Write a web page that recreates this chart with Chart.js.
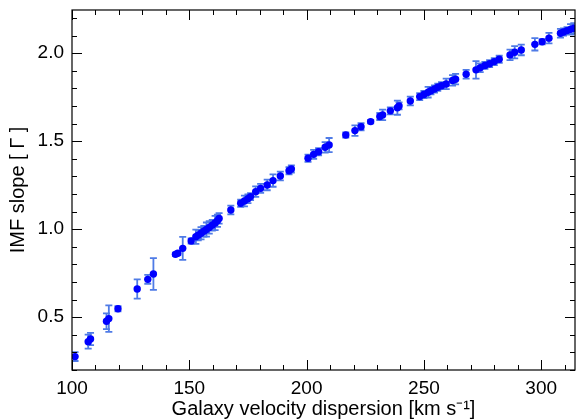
<!DOCTYPE html>
<html><head><meta charset="utf-8">
<script src="https://cdn.jsdelivr.net/npm/chart.js@4.4.1/dist/chart.umd.min.js"></script>
<style>html,body{margin:0;padding:0;background:#fff;}#wrap{width:579px;height:419px;}</style>
</head><body><div id="wrap"><canvas id="c" width="579" height="419"></canvas></div>
<script>
const sigma = [101.3,106.9,107.9,114.7,115.7,119.6,127.8,132.3,134.7,144.1,145.1,147.2,150.8,152.8,153.8,155.0,156.2,157.3,158.5,159.8,161.0,162.0,162.7,167.7,171.9,173.5,175.0,176.1,178.3,180.4,183.2,185.7,188.8,192.5,193.5,200.6,203.0,205.1,207.9,209.6,216.7,220.6,223.2,227.3,231.2,232.4,235.7,238.7,239.4,244.2,248.2,250.0,251.8,253.0,254.5,255.9,257.5,259.5,262.2,263.5,268.0,272.2,274.0,276.0,278.0,280.0,282.1,286.7,288.7,291.5,297.3,300.4,303.3,308.2,309.5,311.0,312.5,313.9];
const gamma = [0.276,0.361,0.376,0.477,0.492,0.548,0.660,0.715,0.745,0.857,0.863,0.891,0.933,0.957,0.966,0.977,0.988,0.998,1.010,1.022,1.035,1.048,1.061,1.109,1.147,1.160,1.173,1.185,1.213,1.232,1.251,1.276,1.302,1.332,1.342,1.403,1.425,1.440,1.465,1.478,1.535,1.560,1.582,1.611,1.640,1.649,1.672,1.690,1.700,1.728,1.753,1.765,1.778,1.786,1.796,1.806,1.815,1.825,1.845,1.852,1.880,1.905,1.917,1.930,1.940,1.952,1.965,1.990,2.005,2.018,2.050,2.065,2.085,2.113,2.120,2.128,2.135,2.141];
const gammaErr = [0.025,0.040,0.035,0.045,0.075,0.015,0.055,0.025,0.090,0.010,0.010,0.065,0.015,0.040,0.030,0.035,0.030,0.040,0.035,0.030,0.040,0.035,0.030,0.025,0.020,0.030,0.025,0.020,0.030,0.025,0.030,0.035,0.025,0.020,0.020,0.020,0.025,0.020,0.030,0.040,0.015,0.030,0.020,0.010,0.020,0.030,0.020,0.040,0.020,0.025,0.020,0.020,0.030,0.020,0.020,0.020,0.020,0.030,0.030,0.030,0.025,0.050,0.025,0.020,0.020,0.020,0.020,0.030,0.035,0.030,0.035,0.015,0.030,0.025,0.020,0.020,0.030,0.030];
const xTicks = [100,150,200,250,300];
const yTicks = [0.5,1.0,1.5,2.0];
const xRange = [100,314.4];
const yRange = [0.2,2.245];

const FONT = "'Liberation Sans', Arial, Helvetica, sans-serif";

const errorBars = {
  id: 'errorBars',
  beforeDatasetsDraw(chart) {
    const {ctx, chartArea, scales:{x, y}} = chart;
    ctx.save();
    ctx.beginPath();
    ctx.rect(chartArea.left, chartArea.top, chartArea.right - chartArea.left, chartArea.bottom - chartArea.top);
    ctx.clip();
    ctx.strokeStyle = '#4f7be6';
    ctx.lineWidth = 1.8;
    for (let i = 0; i < sigma.length; i++) {
      const px = x.getPixelForValue(sigma[i]);
      const y1 = y.getPixelForValue(gamma[i] - gammaErr[i]);
      const y2 = y.getPixelForValue(gamma[i] + gammaErr[i]);
      ctx.beginPath();
      ctx.moveTo(px, y1); ctx.lineTo(px, y2);
      ctx.moveTo(px - 3.5, y1); ctx.lineTo(px + 3.5, y1);
      ctx.moveTo(px - 3.5, y2); ctx.lineTo(px + 3.5, y2);
      ctx.stroke();
    }
    ctx.restore();
  }
};

const frame = {
  id: 'frame',
  afterDraw(chart) {
    const {ctx, chartArea:a, scales:{x, y}} = chart;
    ctx.save();
    ctx.strokeStyle = '#000';
    ctx.lineWidth = 1.2;
    ctx.strokeRect(a.left, a.top, a.right - a.left, a.bottom - a.top);
    ctx.lineWidth = 1;
    ctx.beginPath();
    for (let v = xRange[0]; v <= xRange[1] + 1e-9; v += 10) {
      const px = Math.round(x.getPixelForValue(v)) + 0.5;
      const major = Math.abs(v % 50) < 1e-6;
      const L = major ? 10 : 5;
      ctx.moveTo(px, a.bottom); ctx.lineTo(px, a.bottom - L);
      ctx.moveTo(px, a.top); ctx.lineTo(px, a.top + L);
    }
    for (let k = 2; k <= 22; k++) {
      const v = k / 10;
      if (v > yRange[1]) break;
      const py = Math.round(y.getPixelForValue(v)) + 0.5;
      const major = k % 5 === 0;
      const L = major ? 10 : 5;
      ctx.moveTo(a.left, py); ctx.lineTo(a.left + L, py);
      ctx.moveTo(a.right, py); ctx.lineTo(a.right - L, py);
    }
    ctx.stroke();
    ctx.restore();
  }
};

function noPad(s) { s.paddingTop = 0; s.paddingBottom = 0; s.paddingLeft = 0; s.paddingRight = 0; }

new Chart(document.getElementById('c'), {
  type: 'scatter',
  data: {
    datasets: [{
      data: sigma.map((s, i) => ({x: s, y: gamma[i]})),
      backgroundColor: '#0000ff',
      borderColor: '#0000ff',
      pointRadius: 3.7,
      borderWidth: 0
    }]
  },
  options: {
    responsive: false,
    animation: false,
    devicePixelRatio: 1,
    layout: {padding: {top: 10, right: 1, bottom: 0, left: 0}},
    plugins: {legend: {display: false}, tooltip: {enabled: false}},
    scales: {
      x: {
        type: 'linear', min: xRange[0], max: xRange[1],
        afterBuildTicks: s => { s.ticks = xTicks.map(v => ({value: v})); },
        afterFit: s => { s.height = 49; noPad(s); },
        grid: {display: false, drawTicks: false},
        border: {display: false},
        ticks: {color: '#000', padding: 7, font: {family: FONT, size: 19}, maxRotation: 0, autoSkip: false, callback: v => String(v)},
        title: {display: true, text: 'Galaxy velocity dispersion [km s\u207B\u00B9]', color: '#000', font: {family: FONT, size: 20}, padding: {top: 0, bottom: -2}}
      },
      y: {
        type: 'linear', min: yRange[0], max: yRange[1],
        afterBuildTicks: s => { s.ticks = yTicks.map(v => ({value: v})); },
        afterFit: s => { s.width = 72; noPad(s); },
        grid: {display: false, drawTicks: false},
        border: {display: false},
        ticks: {color: '#000', padding: 8, font: {family: FONT, size: 19}, autoSkip: false, callback: v => Number(v).toFixed(1)},
        title: {display: true, text: 'IMF slope [ \u0393 ]', color: '#000', font: {family: FONT, size: 20}, padding: {top: 6, bottom: 0}}
      }
    }
  },
  plugins: [errorBars, frame]
});
</script>
</body></html>
